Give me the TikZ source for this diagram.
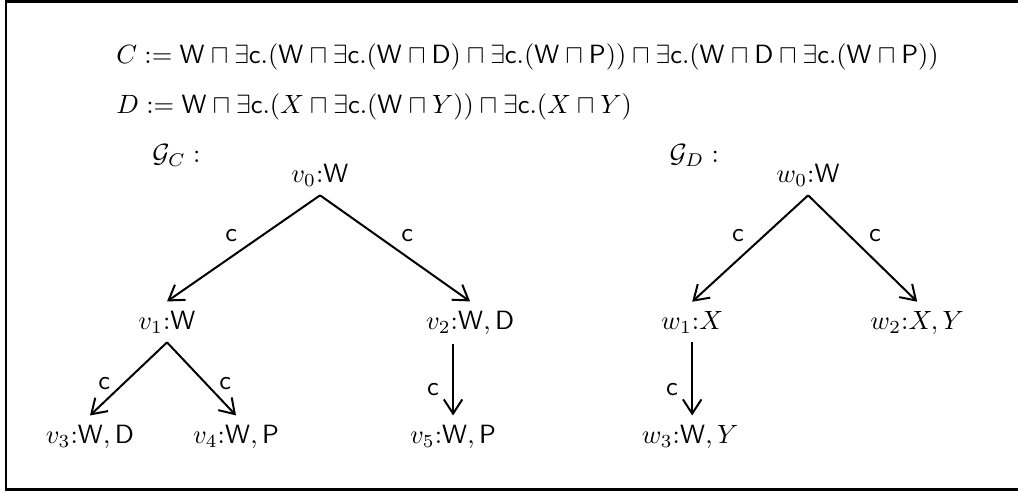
\documentclass[tikz,border=0pt]{standalone}
\usetikzlibrary{arrows.meta}
\newcommand{\rW}{\mathsf{W}}
\newcommand{\rD}{\mathsf{D}}
\newcommand{\rP}{\mathsf{P}}
\newcommand{\exc}{\exists\mathsf{c}.}
\begin{document}
\begin{tikzpicture}[>={Straight Barb[length=2mm,width=2.6mm]},
 every node/.style={scale=1.056},
 vtx/.style={anchor=base,inner sep=3.33pt},
 cedge/.style={->,thick},
 lab/.style={font=\sffamily,inner sep=3pt}]
\useasboundingbox (0,0) rectangle (14.31,-6.93);
\draw[line width=1pt] (0.084,-0.021) rectangle (14.6,-6.883);
% concept definitions
\node[anchor=base west] (defc) at (1.505,-0.886) {$C := \rW\sqcap\exc(\rW\sqcap\exc(\rW\sqcap\rD)\sqcap\exc(\rW\sqcap\rP))\sqcap\exc(\rW\sqcap\rD\sqcap\exc(\rW\sqcap\rP))$};
\node[anchor=base west] (defd) at (1.505,-1.589) {$D := \rW\sqcap\exc(X\sqcap\exc(\rW\sqcap Y))\sqcap\exc(X\sqcap Y)$};
% graph of C
\node[anchor=base west] (gc) at (2.011,-2.278) {$\mathcal{G}_C :$};
\node[vtx] (v0) at (4.499,-2.559) {$v_0$:$\rW$};
\node[vtx] (v1) at (2.348,-4.626) {$v_1$:$\rW$};
\node[vtx] (v2) at (6.608,-4.626) {$v_2$:$\rW,\rD$};
\node[vtx] (v3) at (1.265,-6.229) {$v_3$:$\rW,\rD$};
\node[vtx] (v4) at (3.318,-6.229) {$v_4$:$\rW,\rP$};
\node[vtx] (v5) at (6.369,-6.229) {$v_5$:$\rW,\rP$};
% graph of D
\node[anchor=base west] (gd) at (9.280,-2.278) {$\mathcal{G}_D :$};
\node[vtx] (w0) at (11.360,-2.559) {$w_0$:$\rW$};
\node[vtx] (w1) at (9.730,-4.626) {$w_1$:$X$};
\node[vtx] (w2) at (12.893,-4.626) {$w_2$:$X,Y$};
\node[vtx] (w3) at (9.701,-6.229) {$w_3$:$\rW,Y$};
\foreach \a/\b/\s in {v0/v1/above left,v0/v2/above right,w0/w1/above left,w0/w2/above right}
 {\draw[cedge] (\a.south) -- node[lab,\s=-1pt,pos=.5] {c} (\b.north);}
\foreach \a/\b/\s in {v1/v3/left,v1/v4/right}
 {\draw[cedge] (\a.south) -- node[lab,\s=1.5pt,pos=.57] {c} (\b.north);}
\draw[cedge] (v5.north |- v2.south) -- node[lab,left=2pt,pos=.64] {c} (v5.north);
\draw[cedge] (w1.south) -- node[lab,left=2pt,pos=.64] {c} (w1.south |- w3.north);
\end{tikzpicture}
\end{document}
